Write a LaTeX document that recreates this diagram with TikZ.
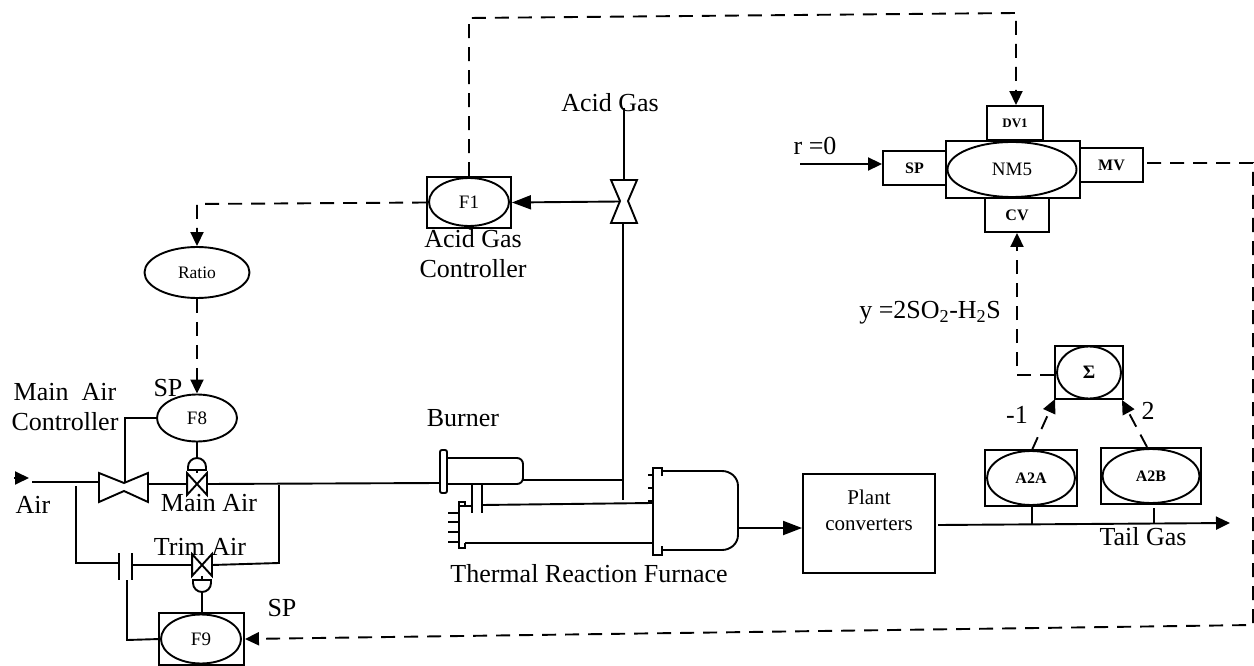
\documentclass[tikz,border=0pt]{standalone}
\usepackage{fontspec}
\setmainfont{Liberation Serif}
\usepackage{amsmath}
\usetikzlibrary{arrows.meta,shapes.geometric}

\begin{document}
\begin{tikzpicture}[x=1pt,y=-1pt,line width=1.9pt,
        tip/.style={-{Triangle[length=14pt,width=13pt]}},
        bigtip/.style={-{Triangle[length=19pt,width=14pt]}},
        txt/.style={inner sep=0pt,font=\fontsize{26}{30}\selectfont,align=center},
        lbl/.style={inner sep=0pt,font=\fontsize{21}{26}\selectfont},
        tag/.style={inner sep=0pt,font=\fontsize{16}{20}\selectfont\bfseries},
        ctrl/.style={draw,ellipse,inner sep=0pt,font=\fontsize{19}{23}\selectfont},
        sig/.style={dash pattern=on 14pt off 9pt},
        bowtie/.style={draw,fill=white}]
        \useasboundingbox (0,0) rectangle (1254,666);

        % controller nodes
        \node (nmbox) [draw, minimum width=134pt, minimum height=57pt, inner sep=0pt] at (1013,169.5) {};
        \node (nm) [ctrl, minimum width=129pt, minimum height=55pt] at (1012,169.5) {NM5};
        \node (dv) [draw, tag, font=\fontsize{13}{16}\selectfont\bfseries, minimum width=56pt, minimum height=34pt] at (1015,123) {DV1};
        \node (sp) [draw, tag, minimum width=63pt, minimum height=34pt] at (914.5,168) {SP};
        \node (mv) [draw, tag, minimum width=63pt, minimum height=34pt] at (1111.5,165) {MV};
        \node (cv) [draw, tag, minimum width=64pt, minimum height=34pt] at (1017,215) {CV};
        \node (f1box) [draw, minimum width=84pt, minimum height=51pt, inner sep=0pt] at (469,202.5) {};
        \node (f1) [ctrl, minimum width=80pt, minimum height=48pt] at (469,202) {F1};
        \node (ratio) [ctrl, font=\fontsize{17.5}{21}\selectfont, minimum width=105pt, minimum height=51pt] at (197,272.5) {Ratio};
        \node (f8) [ctrl, minimum width=80pt, minimum height=47pt] at (197,418) {F8};
        \node (f9box) [draw, minimum width=85pt, minimum height=52pt, inner sep=0pt] at (201.5,639) {};
        \node (f9) [ctrl, minimum width=80pt, minimum height=49pt] at (201,639) {F9};
        \node (sumbox) [draw, minimum width=68pt, minimum height=53pt, inner sep=0pt] at (1089,372.5) {};
        \node (sum) [ctrl, font=\fontsize{19}{23}\selectfont\bfseries, minimum width=64pt, minimum height=52pt] at (1089,372.5) {Σ};
        \node (aabox) [draw, minimum width=92pt, minimum height=56pt, inner sep=0pt] at (1031,478) {};
        \node (aa) [ctrl, tag, draw, minimum width=88pt, minimum height=54pt] at (1031,478) {A2A};
        \node (abbox) [draw, minimum width=100pt, minimum height=56pt, inner sep=0pt] at (1151,476) {};
        \node (ab) [ctrl, tag, draw, minimum width=97pt, minimum height=54pt] at (1151,476) {A2B};
        \node (plant) [draw, lbl, align=center, minimum width=132pt, minimum height=99pt] at (869,523.5) {Plant\\converters\\~};

        % valves
        \draw[bowtie] (99,473) -- (124,483) -- (148,473) -- (148,502) -- (124,491) -- (99,502) -- cycle;
        \coordinate (mainv) at (125,483);
        \draw[bowtie] (611,180) -- (637,180) -- (628,201) -- (637,223) -- (611,223) -- (620,201) -- cycle;
        \coordinate (acidv) at (620,201.5);
        \node (mairv) [minimum width=18pt, minimum height=20pt, inner sep=0pt] at (197,484) {};
        \draw (mairv.north west) -- (mairv.south east) -- (mairv.north east) -- (mairv.south west) -- cycle;
        \node (tairv) [minimum width=18pt, minimum height=20pt, inner sep=0pt] at (202,565) {};
        \draw (tairv.north west) -- (tairv.south east) -- (tairv.north east) -- (tairv.south west) -- cycle;
        \draw (188,470) -- (188,467) arc[start angle=180, end angle=360, radius=9] -- (206,470) -- cycle;
        \coordinate (mdome) at (197,458);
        \coordinate (mdomeb) at (197,470);
        \draw (193,580) -- (193,583) arc[start angle=180, end angle=0, radius=9] -- (211,580) -- cycle;
        \coordinate (tdome) at (202,592);
        \coordinate (tdomet) at (202,580);

        % burner and furnace
        \draw (447,458) -- (517,458) to[out=0,in=90] (523,464) -- (523,478) to[out=-90,in=0] (517,484) -- (447,484);
        \node (flange) [draw, rounded corners=2pt, minimum width=7pt, minimum height=43pt, inner sep=0pt] at (443.5,471.5) {};
        \draw (465,507) -- (465,502) -- (459,502) -- (459,548) -- (465,548) -- (465,543);
        \foreach \y in {513,522,532,542} \draw (448,\y) -- (458,\y);
        \draw (472,485) -- (472,513);
        \draw (482,485) -- (482,513);
        \draw (459,506) -- (472,506);
        \draw (662,476) -- (662,468) -- (653,468) -- (653,555) -- (662,555) -- (662,546);
        \draw (662,471) -- (722,471) to[out=0,in=90] (738,486) -- (738,535) to[out=-90,in=0] (722,550) -- (662,550);
        \foreach \y in {475,488,501} \draw (648,\y) -- (653,\y);
        \coordinate (furnin) at (652,503);
        \coordinate (furnlow) at (652,543);
        \coordinate (furnout) at (739,528);
        \draw (482,505) -- (furnin);
        \draw (465,543) -- (furnlow);
        \draw[bigtip] (furnout) -- (plant.west |- furnout);

        % process lines
        \coordinate (airtip) at (14,478);
        \coordinate (airend) at (29,478);
        \draw[tip] (airtip) -- (airend);
        \draw (32,482) -- (99,482);
        \draw (148,484) -- (mairv.west);
        \draw (mairv.east) -- (440,483);
        \draw (76,486) -- (76,563) -- (119,563);
        \draw (119,553) -- (119,580);
        \draw (132,553) -- (132,580);
        \draw (132,565) -- (tairv.west);
        \draw (tairv.east) -- (279,563) -- (279,485);
        \draw (f8.west) -- (125,418) -- (mainv);
        \draw (f8.south) -- (mdome);
        \draw (mdomeb) -- (mairv.north);
        \draw (tairv.south) -- (tdomet);
        \draw (tdome) -- (f9box.north -| tdome);
        \draw (f9.west) -- (127,640) -- (127,580);
        \draw (624,108) -- (624,180);
        \draw (623,223) -- (623,500);
        \draw (523,480) -- (623,480);
        \draw[bigtip] (acidv) -- (f1box.east);
        \draw[tip] (800,164) -- (sp.west |- 800,164);
        \draw[tip] (938,525) -- (1230,523);
        \draw (aabox.south -| 1032,0) -- (1032,524);
        \draw (1154,508) -- (1154,523);

        % signal lines
        \draw[sig,tip] (f1box.north) -- (469,18) -- (1016,13) -- (dv.north -| 1016,0);
        \draw[sig,tip] (f1box.west) -- (197,204) -- (ratio.north);
        \draw[sig,tip] (ratio.south) -- (f8.north);
        \draw[sig,tip] (sumbox.west |- 1017,375) -- (1017,375) -- (cv.south);
        \draw[sig,tip] (1032,450) -- (1055,399);
        \draw[sig,tip] (1147,447) -- (1122,400);
        \draw[sig,tip] (1147,163) -- (1253,163) -- (1253,625) -- (f9box.east);

        % labels
        \node (lacid) [txt] at (610,103) {Acid Gas};
        \node (lacidc) [txt] at (473,254) {Acid Gas\\Controller};
        \node (lr) [txt] at (815,146) {r =0};
        \node (ly) [txt] at (930,313) {y =2SO\textsubscript{2}-H\textsubscript{2}S};
        \node (lmain) [txt] at (65,407) {Main\ \ Air\\Controller};
        \node (lsp) [txt] at (168,388) {SP};
        \node (lsp2) [txt] at (282,608) {SP};
        \node (lair) [txt] at (33,505) {Air};
        \node (lmair) [txt] at (209,503) {Main Air};
        \node (ltrim) [txt] at (200,547) {Trim Air};
        \node (lburn) [txt] at (463,418) {Burner};
        \node (lfurn) [txt] at (589,574) {Thermal Reaction Furnace};
        \node (ltail) [txt] at (1143,537) {Tail Gas};
        \node (lm1) [txt] at (1017,415) {-1};
        \node (l2) [txt] at (1148,411) {2};
    \end{tikzpicture}
\end{document}
